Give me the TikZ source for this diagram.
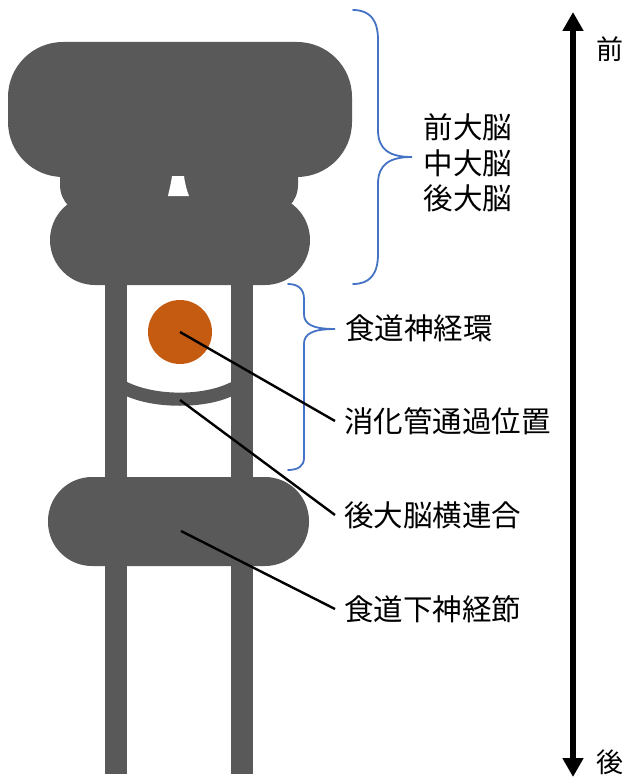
\documentclass[tikz,border=0pt]{standalone}
\usepackage{fontspec}
\newfontfamily\jpfont{Noto Sans CJK JP}
\usetikzlibrary{arrows.meta}
\definecolor{nerve}{HTML}{595959}
\definecolor{gut}{HTML}{C55A11}
\definecolor{bracecol}{HTML}{4472C4}
\begin{document}
\begin{tikzpicture}[x=1pt,y=-1pt,
  tissue/.style={fill=nerve},
  lbl/.style={anchor=west,inner xsep=9pt,inner ysep=0pt,text height=26pt,text depth=3.5pt,
    font=\jpfont\fontsize{29.5}{35.5}\selectfont},
  axislbl/.style={inner sep=0pt,text height=23.8pt,text depth=3.2pt,
    font=\jpfont\fontsize{27}{32}\selectfont},
  leader/.style={draw=black,line width=2.4pt},
  bracket/.style={draw=bracecol,line width=1.8pt,line cap=round}]
\useasboundingbox (0,0) rectangle (624,781);

% connectives running the length of the body
\fill[tissue] (105,270) rectangle (127,774);
\fill[tissue] (231,270) rectangle (253,774);

% brain: protocerebrum, deutocerebrum, tritocerebrum
\fill[tissue, rounded corners=55pt] (8,42) rectangle (352,177);
\fill[tissue, rounded corners=30pt] (60,120) rectangle (298,215);
\fill[tissue, rounded corners=45pt] (50,195) rectangle (310,285);
\fill[white] (172,176) .. controls (171,184) and (169,191) .. (168,196)
  -- (189,196) .. controls (187,191) and (185,184) .. (184,176) -- cycle;

% tritocerebral commissure
\fill[tissue] (120,378) .. controls (150,397.5) and (210,397.5) .. (238,378)
  -- (238,393) .. controls (210,410) and (150,410) .. (120,393) -- cycle;
\coordinate (comm) at (180,400);

% gut passing through the ring
\node[circle, fill=gut, minimum size=64pt, inner sep=0pt] (gutnode) at (180,332) {};

% subesophageal ganglion
\fill[tissue, rounded corners=44pt] (48,477) rectangle (309,566);
\coordinate (seg) at (181,531);

% braces
\draw[bracket] (353,10) .. controls (370,10) and (378,20) .. (378,40) -- (378,130)
  .. controls (378,150) and (390,157) .. (412,157)
  .. controls (390,157) and (378,164) .. (378,184) -- (378,254)
  .. controls (378,274) and (370,284) .. (353,284);
\draw[bracket] (288,284) .. controls (298,284) and (304,289) .. (304,299) -- (304,314)
  .. controls (304,324) and (312,329) .. (335,329)
  .. controls (312,329) and (304,334) .. (304,344) -- (304,458)
  .. controls (304,466) and (298,470) .. (288,470);

% labels
\node[font=\jpfont\fontsize{29.5}{35.5}\selectfont, align=center, inner sep=0pt] (brain) at (468,163)
  {前大脳\\中大脳\\後大脳};
\node[lbl, inner xsep=0pt] (ring) at (345,328) {食道神経環};
\node[lbl] (gutlbl) at (335,421) {消化管通過位置};
\node[lbl] (commlbl) at (335,515) {後大脳横連合};
\node[lbl] (seglbl) at (335,609) {食道下神経節};

% leader lines
\draw[leader] (gutnode.center) -- (gutlbl.west);
\draw[leader] (comm) -- (commlbl.west);
\draw[leader] (seg) -- (seglbl.west);

% body axis
\coordinate (front) at (573,12);
\coordinate (back) at (573,777);
\draw[line width=6pt, {Triangle[width=20pt,length=19pt]}-{Triangle[width=20pt,length=19pt]}] (back) -- (front);
\node[axislbl] (ant) at (610,49) {前};
\node[axislbl] (post) at (610,762) {後};
\end{tikzpicture}
\end{document}
